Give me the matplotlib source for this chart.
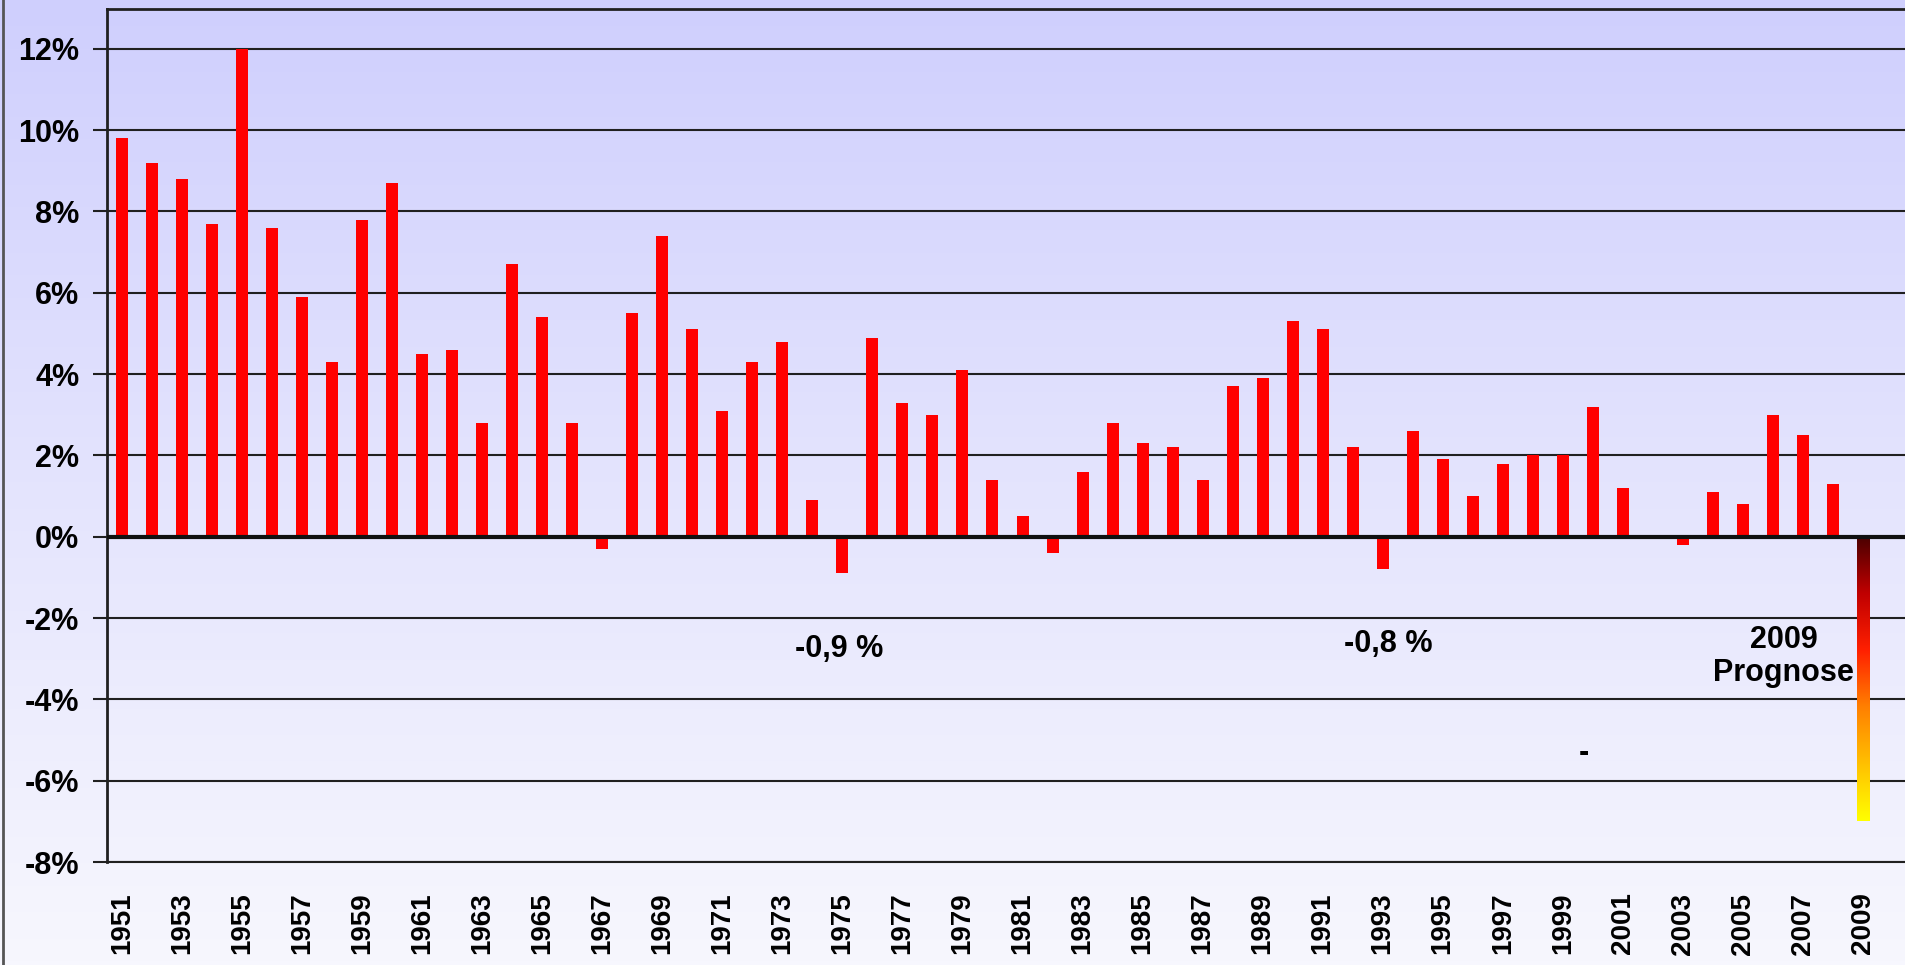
import numpy as np
import matplotlib
matplotlib.use("Agg")
import matplotlib.pyplot as plt
from matplotlib.colors import LinearSegmentedColormap

# Wachstum des BIP, Veränderung gegenüber Vorjahr in %
years = list(range(1951, 2010))
growth = [9.8, 9.2, 8.8, 7.7, 12.0, 7.6, 5.9, 4.3, 7.8, 8.7,
          4.5, 4.6, 2.8, 6.7, 5.4, 2.8, -0.3, 5.5, 7.4, 5.1,
          3.1, 4.3, 4.8, 0.9, -0.9, 4.9, 3.3, 3.0, 4.1, 1.4,
          0.5, -0.4, 1.6, 2.8, 2.3, 2.2, 1.4, 3.7, 3.9, 5.3,
          5.1, 2.2, -0.8, 2.6, 1.9, 1.0, 1.8, 2.0, 2.0, 3.2,
          1.2, 0.0, -0.2, 1.1, 0.8, 3.0, 2.5, 1.3, -7.0]
label_years = years[::2]
yticks = list(range(-8, 13, 2))

# (x, y, Text, Schriftgröße)
annotations = [
    (1974.9, -2.76, "-0,9 %", 22),
    (1993.2, -2.64, "-0,8 %", 22),
    (2006.35, -2.95, "2009\nPrognose", 22),
    (1999.7, -5.32, "-", 22),
]

FONT = "Liberation Sans"
plt.rcParams["font.family"] = [FONT, "DejaVu Sans"]

fig = plt.figure(figsize=(19.05, 9.65), dpi=100)

# Hintergrund-Verlauf über die ganze Fläche
bg = fig.add_axes([0, 0, 1, 1], zorder=-10)
grad = np.linspace(0, 1, 256).reshape(-1, 1)
bg_cmap = LinearSegmentedColormap.from_list("bg", ["#cfcffd", "#e4e4fd", "#f7f7fe"])
bg.imshow(grad, aspect="auto", cmap=bg_cmap, extent=[0, 1, 0, 1], origin="upper")
bg.axis("off")
bg.axvline(0.0015, color="#555555", lw=2)

ax = fig.add_axes([107 / 1905, 103 / 965, 1 - 107 / 1905, 853 / 965])
ax.patch.set_alpha(0)

bars = ax.bar(years, growth, width=0.4, color="#ff0000", zorder=3)

# letzter Balken (Prognose) mit Farbverlauf
last = bars[-1]
last.set_visible(False)
x0, y0 = last.get_x(), last.get_y()
w, h = last.get_width(), last.get_height()
prog_cmap = LinearSegmentedColormap.from_list(
    "prog", ["#4a0000", "#c00000", "#ff2000", "#ff8000", "#ffc000", "#ffff00"])
img = ax.imshow(np.linspace(0, 1, 256).reshape(-1, 1), cmap=prog_cmap, aspect="auto",
                extent=[x0, x0 + w, y0 + h, y0], origin="upper", zorder=3)
clip = plt.Rectangle((x0, y0), w, h, transform=ax.transData)
img.set_clip_path(clip)

ax.set_xlim(1950.5, 2010.4)
ax.set_ylim(-8, 12.98)

ax.set_yticks(yticks)
ax.set_yticklabels([f"{t}%" for t in yticks], fontsize=22, fontweight="bold")
ax.set_xticks(label_years)
ax.set_xticklabels([str(y) for y in label_years], rotation=90, fontsize=20,
                   fontweight="bold")
ax.tick_params(axis="x", length=0, pad=22)
ax.tick_params(axis="y", length=10, width=1.5, color="#202020", pad=10)

ax.grid(axis="y", color="#202020", lw=1.5, zorder=1)
ax.axhline(0, color="#101010", lw=3, zorder=4)

ax.spines["right"].set_visible(False)
ax.spines["left"].set_linewidth(2)
ax.spines["top"].set_linewidth(2)
ax.spines["bottom"].set_linewidth(1.5)
for s in ax.spines.values():
    s.set_color("#202020")

for xa, ya, txt, fs in annotations:
    ax.text(xa, ya, txt, ha="center", va="center", fontsize=fs, fontweight="bold",
            linespacing=1.15, zorder=5)

fig.savefig("out.png", dpi=100)
